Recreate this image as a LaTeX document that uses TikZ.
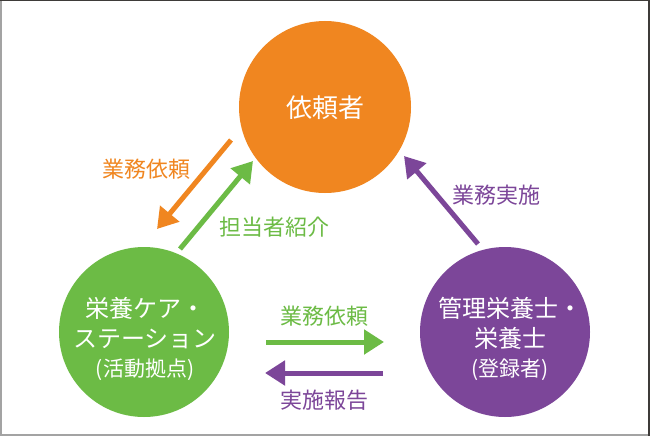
\documentclass[tikz,border=0pt]{standalone}
\usepackage{fontspec}
\newfontfamily\jp{Noto Sans CJK JP}
\usetikzlibrary{arrows.meta}
\definecolor{cor}{HTML}{F08620}
\definecolor{cgr}{HTML}{6CBB45}
\definecolor{cpu}{HTML}{7C4699}
\definecolor{framedark}{HTML}{3E3B39}
\definecolor{framelight}{HTML}{A3A3A3}
\begin{document}
\begin{tikzpicture}[x=1pt,y=-1pt,
  bubble/.style={circle,inner sep=0pt,draw=none},
  arr/.style={line width=5pt,-{Triangle[width=24pt,length=20pt]}},
  lbl/.style={inner sep=0pt,font=\jp\fontsize{22}{26}\selectfont},
  intext/.style={inner sep=0pt,text=white,align=center,font=\jp\fontsize{24}{30}\selectfont}]
\useasboundingbox (0,0) rectangle (650,436);
\fill[white] (0,0) rectangle (650,436);
% frame
\draw[line width=2pt,framelight] (1,0) -- (1,436);
\draw[line width=2pt,framelight] (0,435) -- (650,435);
\draw[line width=1.5pt,framedark] (0,0.75) -- (650,0.75);
\draw[line width=2pt,framedark] (649,0) -- (649,436);
% circles
\node[bubble,fill=cor,minimum size=172pt] (req) at (325,107) {};
\node[bubble,fill=cgr,minimum size=170pt] (care) at (144,332) {};
\node[bubble,fill=cpu,minimum size=170pt] (diet) at (505,332) {};
% circle texts
\node[intext,font=\jp\fontsize{26}{30}\selectfont] (reqt) at (325,108) {依頼者};
\node[intext] (caret) at (145,339) {栄養ケア・\\ステーション\\[-1pt]{\fontsize{21}{30}\selectfont (活動拠点)}};
\node[intext] (dietxt) at (510,339) {管理栄養士・\\栄養士\\[-1pt]{\fontsize{21}{30}\selectfont (登録者)}};
% arrow end points
\coordinate (o1) at (231,140);
\coordinate (o2) at (157,229);
\coordinate (g1) at (180,249);
\coordinate (g2) at (253,161);
\coordinate (p1) at (478,244);
\coordinate (p2) at (404,156);
\coordinate (h1) at (266,342);
\coordinate (h2) at (384,342);
\coordinate (k1) at (383,373);
\coordinate (k2) at (265,373);
% arrows
\draw[arr,cor] (o1) -- (o2);
\draw[arr,cgr] (g1) -- (g2);
\draw[arr,cpu] (p1) -- (p2);
\draw[arr,cgr] (h1) -- (h2);
\draw[arr,cpu] (k1) -- (k2);
% labels
\node[lbl,text=cor] (l1) at (146,169) {業務依頼};
\node[lbl,text=cgr] (l2) at (274,227) {担当者紹介};
\node[lbl,text=cpu] (l3) at (496,195) {業務実施};
\node[lbl,text=cgr] (l4) at (324,316) {業務依頼};
\node[lbl,text=cpu] (l5) at (324,400) {実施報告};
\end{tikzpicture}
\end{document}
